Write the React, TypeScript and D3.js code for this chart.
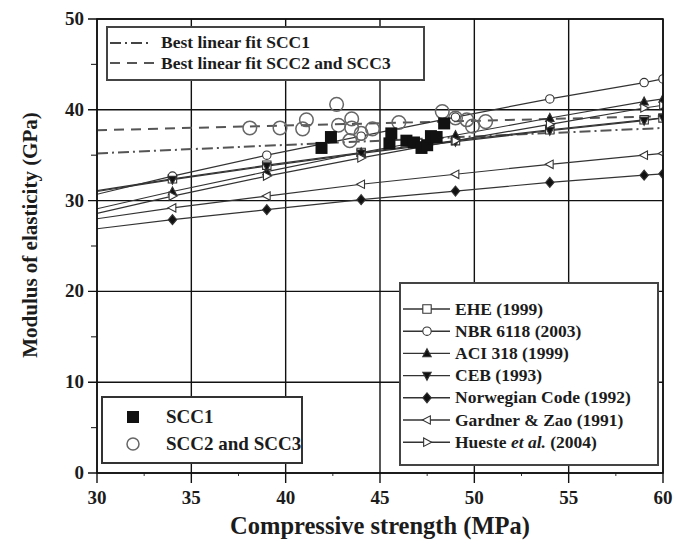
import React from "react";
import * as d3 from "d3";

// ---- data ----
const modelX = [30, 34, 39, 44, 49, 54, 59, 60];
const eheValues = [31.1, 32.4, 33.9, 35.3, 36.6, 37.8, 38.9, 39.1];
const nbrValues = [30.7, 32.7, 35.0, 37.1, 39.2, 41.2, 43.0, 43.4];
const aciValues = [29.1, 31.0, 33.2, 35.3, 37.2, 39.1, 40.9, 41.2];
const cebValues = [31.0, 32.3, 33.8, 35.2, 36.5, 37.7, 38.8, 39.1];
const norValues = [26.9, 27.9, 29.0, 30.1, 31.05, 32.0, 32.8, 32.95];
const gardnerValues = [28.0, 29.2, 30.5, 31.8, 32.9, 34.0, 35.0, 35.2];
const huesteValues = [28.6, 30.5, 32.7, 34.7, 36.6, 38.4, 40.2, 40.5];

const scc1Strength = [41.9, 42.4, 45.5, 45.6, 46.4, 46.8, 47.2, 47.5, 47.7, 48.0, 48.4];
const scc1Modulus = [35.8, 37.0, 36.3, 37.4, 36.6, 36.4, 35.8, 36.1, 37.1, 37.0, 38.5];

const scc23Strength = [38.1, 39.7, 40.9, 41.1, 42.7, 42.8, 43.5, 43.5, 43.4, 44.0, 44.6, 46.0, 48.3, 49.0, 49.6, 49.9, 50.6];
const scc23Modulus = [38.0, 38.0, 37.9, 38.9, 40.6, 38.3, 39.0, 38.0, 36.6, 37.4, 37.9, 38.6, 39.8, 39.1, 38.9, 38.2, 38.7];

const fitX = [30, 60];
const fitSCC1 = [35.2, 38.0];
const fitSCC23 = [37.75, 39.3];

const xTicks = [30, 35, 40, 45, 50, 55, 60];
const xMinorTicks = [32.5, 37.5, 42.5, 47.5, 52.5, 57.5];
const yTicks = [0, 10, 20, 30, 40, 50];
const yMinorTicks = [5, 15, 25, 35, 45];

const seriesNames = [
  "EHE (1999)",
  "NBR 6118 (2003)",
  "ACI 318 (1999)",
  "CEB (1993)",
  "Norwegian Code (1992)",
  "Gardner & Zao (1991)",
  "Hueste et al. (2004)",
];
const fitNames = ["Best linear fit SCC1", "Best linear fit SCC2 and SCC3"];
const pointNames = ["SCC1", "SCC2 and SCC3"];

// ---- layout ----
const W = 676, H = 547;
const x = d3.scaleLinear().domain([30, 60]).range([97, 663]);
const y = d3.scaleLinear().domain([0, 50]).range([473, 19]);
const FONT = "Liberation Serif, DejaVu Serif, Times New Roman, serif";
const TXT = "#1c1c1c";
const LINE = "#333";

type Shape = "square" | "circle" | "triUp" | "triDown" | "diamond" | "triLeft" | "triRight";

const models: { values: number[]; shape: Shape; filled: boolean }[] = [
  { values: eheValues, shape: "square", filled: false },
  { values: nbrValues, shape: "circle", filled: false },
  { values: aciValues, shape: "triUp", filled: true },
  { values: cebValues, shape: "triDown", filled: true },
  { values: norValues, shape: "diamond", filled: true },
  { values: gardnerValues, shape: "triLeft", filled: false },
  { values: huesteValues, shape: "triRight", filled: false },
];

function Marker({ shape, cx, cy, filled, r = 4.2 }: { shape: Shape; cx: number; cy: number; filled: boolean; r?: number }) {
  const fill = filled ? "#111" : "#fff";
  const stroke = "#333";
  const sw = 1.1;
  if (shape === "circle") return <circle cx={cx} cy={cy} r={r} fill={fill} stroke={stroke} strokeWidth={sw} />;
  let d = "";
  switch (shape) {
    case "square": d = `M${-r},${-r}h${2 * r}v${2 * r}h${-2 * r}Z`; break;
    case "triUp": d = `M0,${-r * 1.1}L${r},${r * 0.8}L${-r},${r * 0.8}Z`; break;
    case "triDown": d = `M0,${r * 1.1}L${r},${-r * 0.8}L${-r},${-r * 0.8}Z`; break;
    case "diamond": d = `M0,${-r * 1.2}L${r},0L0,${r * 1.2}L${-r},0Z`; break;
    case "triLeft": d = `M${-r * 1.1},0L${r * 0.8},${-r}L${r * 0.8},${r}Z`; break;
    case "triRight": d = `M${r * 1.1},0L${-r * 0.8},${-r}L${-r * 0.8},${r}Z`; break;
  }
  return <path d={d} transform={`translate(${cx},${cy})`} fill={fill} stroke={stroke} strokeWidth={sw} />;
}

export default function App() {
  const [x0, x1] = x.range();
  const [y0, y1] = y.range();
  const lineGen = d3.line<[number, number]>().x(d => x(d[0])).y(d => y(d[1]));
  const tStyle = { fontFamily: FONT, fontWeight: 700 } as React.CSSProperties;

  return (
    <svg width={W} height={H} style={{ position: "absolute", left: 0, top: 0, background: "#fff", fontFamily: FONT }}>
      <defs>
        <clipPath id="plot">
          <rect x={x0} y={y1} width={x1 - x0} height={y0 - y1} />
        </clipPath>
      </defs>
      <rect width={W} height={H} fill="#fff" />

      {/* grid */}
      {xTicks.map(t => (
        <line key={"gx" + t} x1={x(t)} x2={x(t)} y1={y1} y2={y0 + 10} stroke="#111" strokeWidth={1.4} />
      ))}
      {yTicks.map(t => (
        <line key={"gy" + t} x1={x0 - 9} x2={x1} y1={y(t)} y2={y(t)} stroke="#111" strokeWidth={1.4} />
      ))}
      {xMinorTicks.map(t => (
        <line key={"mx" + t} x1={x(t)} x2={x(t)} y1={y0} y2={y0 + 3} stroke="#333" strokeWidth={1} />
      ))}
      {yMinorTicks.map(t => (
        <line key={"my" + t} x1={x0 - 6} x2={x0} y1={y(t)} y2={y(t)} stroke="#333" strokeWidth={1.2} />
      ))}

      <g clipPath="url(#plot)">
        {/* fit lines */}
        <path d={lineGen(fitX.map((v, i) => [v, fitSCC23[i]]) as [number, number][]) || ""} fill="none" stroke="#555" strokeWidth={2} strokeDasharray="10,7" />
        <path d={lineGen(fitX.map((v, i) => [v, fitSCC1[i]]) as [number, number][]) || ""} fill="none" stroke="#555" strokeWidth={2} strokeDasharray="11,4,2,4" />

        {/* model lines */}
        {models.map((m, k) => (
          <path key={"l" + k} d={lineGen(modelX.map((v, i) => [v, m.values[i]]) as [number, number][]) || ""} fill="none" stroke={LINE} strokeWidth={1.2} />
        ))}
        {models.map((m, k) =>
          modelX.map((v, i) => i === 0 ? null : (
            <Marker key={"m" + k + "-" + i} shape={m.shape} filled={m.filled} cx={x(v)} cy={y(m.values[i])} />
          ))
        )}

        {/* experimental points */}
        {scc23Strength.map((v, i) => (
          <circle key={"c" + i} cx={x(v)} cy={y(scc23Modulus[i])} r={6.8} fill="none" stroke="#666" strokeWidth={1.5} />
        ))}
        {scc1Strength.map((v, i) => (
          <rect key={"s" + i} x={x(v) - 6} y={y(scc1Modulus[i]) - 6} width={12} height={12} fill="#111" />
        ))}
      </g>

      {/* frame */}
      <rect x={x0} y={y1} width={x1 - x0} height={y0 - y1} fill="none" stroke="#111" strokeWidth={1.6} />

      {/* tick labels */}
      {xTicks.map(t => (
        <text key={"tx" + t} x={x(t)} y={y0 + 31} textAnchor="middle" fontSize={19} style={tStyle} fill={TXT}>{t}</text>
      ))}
      {yTicks.map(t => (
        <text key={"ty" + t} x={x0 - 13} y={y(t) + 6} textAnchor="end" fontSize={19} style={tStyle} fill={TXT}>{t}</text>
      ))}

      {/* axis titles */}
      <text x={(x0 + x1) / 2} y={534} textAnchor="middle" fontSize={24.5} style={tStyle} fill={TXT}>Compressive strength (MPa)</text>
      <text transform={`translate(37,235) rotate(-90)`} textAnchor="middle" fontSize={21} style={tStyle} fill={TXT}>Modulus of elasticity (GPa)</text>

      {/* top legend: fits */}
      <g>
        <rect x={107} y={27} width={317} height={53} fill="#fff" stroke="#444" strokeWidth={2} />
        <line x1={110} x2={152} y1={43} y2={43} stroke="#444" strokeWidth={2} strokeDasharray="11,4,2,4" />
        <line x1={110} x2={156} y1={63} y2={63} stroke="#555" strokeWidth={2} strokeDasharray="10,7" />
        <text x={161} y={48} fontSize={17.5} style={tStyle} fill={TXT}>{fitNames[0]}</text>
        <text x={161} y={69} fontSize={17.5} style={tStyle} fill={TXT}>{fitNames[1]}</text>
      </g>

      {/* bottom-left legend: points */}
      <g>
        <rect x={102} y={397} width={200} height={66} fill="#fff" stroke="#333" strokeWidth={2} />
        <rect x={127} y={411} width={12} height={12} fill="#111" />
        <circle cx={133} cy={444} r={6} fill="none" stroke="#666" strokeWidth={1.5} />
        <text x={166} y={423} fontSize={19} style={tStyle} fill={TXT}>{pointNames[0]}</text>
        <text x={166} y={450} fontSize={19} style={tStyle} fill={TXT}>{pointNames[1]}</text>
      </g>

      {/* bottom-right legend: models */}
      <g>
        <rect x={400} y={283} width={258} height={182} fill="#fff" stroke="#444" strokeWidth={2} />
        {models.map((m, k) => {
          const ly = 309 + k * 22.2;
          const name = seriesNames[k];
          return (
            <g key={"lg" + k}>
              <line x1={403} x2={450} y1={ly} y2={ly} stroke={LINE} strokeWidth={1.4} />
              <Marker shape={m.shape} filled={m.filled} cx={427} cy={ly} />
              {name.includes("et al.") ? (
                <text x={455} y={ly + 5.5} fontSize={17.5} style={tStyle} fill={TXT}>
                  {name.split("et al.")[0]}<tspan fontStyle="italic">et al.</tspan>{name.split("et al.")[1]}
                </text>
              ) : (
                <text x={455} y={ly + 5.5} fontSize={17.5} style={tStyle} fill={TXT}>{name}</text>
              )}
            </g>
          );
        })}
      </g>
    </svg>
  );
}
